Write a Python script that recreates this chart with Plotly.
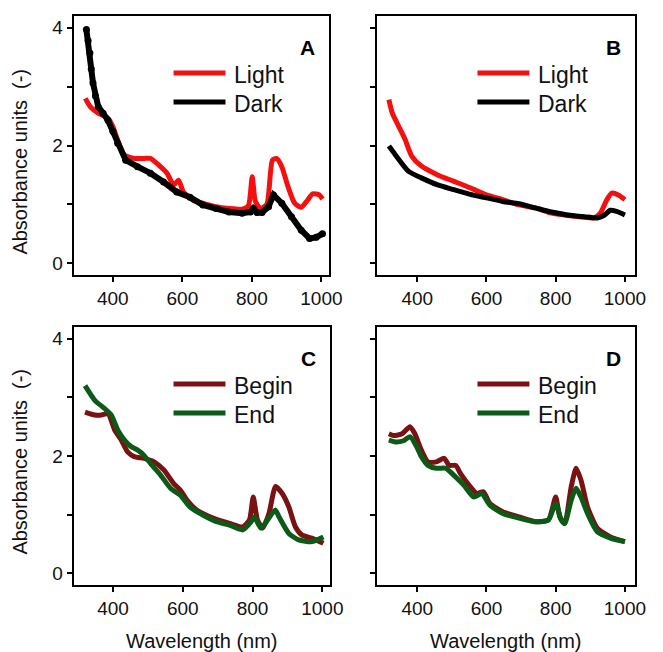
import plotly.graph_objects as go

# Panel A - light vs dark
a_light_x = [321, 335, 358, 386, 400, 414, 433, 462, 490, 508, 537, 556, 575, 589, 603, 631, 659, 697,
             734, 772, 790, 801, 810, 825, 843, 859, 871, 886, 904, 923, 942, 960, 975, 994, 1003]
a_light_y = [2.80, 2.66, 2.55, 2.46, 2.32, 2.09, 1.84, 1.78, 1.78, 1.78, 1.64, 1.53, 1.33, 1.41, 1.21, 1.07,
             1.02, 0.96, 0.93, 0.92, 0.98, 1.47, 1.05, 0.93, 1.00, 1.75, 1.78, 1.64, 1.30, 1.02, 0.95, 1.07,
             1.18, 1.16, 1.09]
a_dark_x = [324, 329, 334, 338, 343, 350, 358, 372, 386, 400, 414, 437, 471, 508, 546, 584, 622, 659, 697,
            734, 772, 796, 804, 815, 829, 848, 862, 886, 914, 942, 966, 985, 1003]
a_dark_y = [3.97, 3.78, 3.57, 3.30, 3.06, 2.84, 2.66, 2.55, 2.43, 2.24, 2.04, 1.75, 1.64, 1.53, 1.38, 1.21,
            1.12, 0.99, 0.93, 0.87, 0.85, 0.87, 0.93, 0.86, 0.86, 0.96, 1.16, 1.02, 0.79, 0.56, 0.42, 0.44, 0.50]

# Panel B - light vs dark
b_light_x = [318, 328, 346, 365, 384, 412, 459, 506, 553, 600, 647, 694, 741, 788, 835, 882, 911, 929,
             948, 962, 981, 1000]
b_light_y = [2.78, 2.55, 2.33, 2.10, 1.82, 1.65, 1.50, 1.39, 1.28, 1.16, 1.08, 0.99, 0.94, 0.85, 0.81,
             0.78, 0.77, 0.85, 1.08, 1.19, 1.16, 1.08]
b_dark_x = [318, 337, 375, 412, 459, 506, 553, 600, 647, 694, 741, 788, 835, 882, 920, 939, 958, 976, 1000]
b_dark_y = [1.99, 1.84, 1.56, 1.45, 1.33, 1.25, 1.17, 1.11, 1.05, 1.01, 0.94, 0.87, 0.82, 0.79, 0.77,
            0.81, 0.90, 0.88, 0.82]

# Panel C - begin vs end
c_begin_x = [320, 348, 367, 386, 405, 424, 442, 461, 489, 518, 546, 574, 593, 612, 640, 687, 734, 772,
             791, 802, 814, 829, 847, 866, 885, 904, 923, 942, 970, 1003]
c_begin_y = [2.75, 2.70, 2.70, 2.72, 2.44, 2.27, 2.07, 1.99, 1.96, 1.90, 1.76, 1.53, 1.42, 1.25, 1.08,
             0.94, 0.85, 0.79, 0.91, 1.30, 0.91, 0.77, 1.02, 1.48, 1.36, 1.13, 0.79, 0.65, 0.60, 0.51]
c_end_x = [320, 348, 376, 395, 414, 433, 452, 471, 489, 508, 537, 565, 593, 621, 659, 697, 734, 772,
           796, 805, 824, 843, 865, 876, 904, 932, 970, 1003]
c_end_y = [3.20, 2.95, 2.81, 2.70, 2.44, 2.27, 2.16, 2.10, 2.01, 1.87, 1.67, 1.45, 1.33, 1.13, 0.99,
           0.88, 0.82, 0.74, 0.88, 0.96, 0.77, 0.91, 1.08, 0.96, 0.68, 0.57, 0.54, 0.62]

# Panel D - begin vs end
d_begin_x = [318, 332, 356, 379, 393, 412, 431, 455, 478, 492, 511, 525, 553, 572, 591, 610, 647, 694,
             741, 779, 800, 812, 826, 845, 859, 873, 892, 920, 958, 1000]
d_begin_y = [2.38, 2.35, 2.38, 2.50, 2.38, 2.10, 1.90, 1.90, 1.96, 1.84, 1.84, 1.70, 1.48, 1.36, 1.39,
             1.19, 1.05, 0.96, 0.88, 0.91, 1.30, 0.96, 0.85, 1.48, 1.79, 1.59, 1.13, 0.77, 0.62, 0.54]
d_end_x = [318, 337, 360, 379, 398, 412, 431, 455, 483, 506, 535, 563, 586, 610, 647, 694, 741, 779,
           800, 816, 826, 845, 859, 873, 892, 920, 958, 1000]
d_end_y = [2.27, 2.24, 2.26, 2.33, 2.16, 1.99, 1.84, 1.79, 1.79, 1.67, 1.50, 1.30, 1.36, 1.16, 1.02,
           0.94, 0.88, 0.91, 1.19, 0.91, 0.85, 1.25, 1.45, 1.30, 1.02, 0.71, 0.60, 0.54]

x_ticks = [400, 600, 800, 1000]
y_ticks = [0, 1, 2, 3, 4]
y_ticktext = ["0", "", "2", "", "4"]

RED = "#f51010"
BLACK = "#000000"
MAROON = "#7a1214"
GREEN = "#0c5a17"
FONT = "Liberation Sans, Arial, sans-serif"

W, H = 663, 652


def px(x):
    return x / W


def py(y):
    return 1 - y / H


# panel frames in window pixels: (left, top, right, bottom)
frames = {
    "A": (75, 16, 336, 275),
    "B": (385, 16, 648, 275),
    "C": (75, 327, 337, 585),
    "D": (385, 327, 648, 585),
}

fig = go.Figure()

panels = [
    ("A", "x", "y", [(a_light_x, a_light_y, RED, "Light"), (a_dark_x, a_dark_y, BLACK, "Dark")]),
    ("B", "x2", "y2", [(b_light_x, b_light_y, RED, "Light"), (b_dark_x, b_dark_y, BLACK, "Dark")]),
    ("C", "x3", "y3", [(c_begin_x, c_begin_y, MAROON, "Begin"), (c_end_x, c_end_y, GREEN, "End")]),
    ("D", "x4", "y4", [(d_begin_x, d_begin_y, MAROON, "Begin"), (d_end_x, d_end_y, GREEN, "End")]),
]

for label, xa, ya, series in panels:
    for sx, sy, col, name in series:
        if label == "A" and name == "Dark":
            # rough, dotted look of the dark spectrum
            fig.add_trace(go.Scatter(x=sx, y=sy, mode="lines+markers", xaxis=xa, yaxis=ya,
                                     line=dict(color=col, width=6), marker=dict(color=col, size=7),
                                     showlegend=False))
        else:
            fig.add_trace(go.Scatter(x=sx, y=sy, mode="lines", xaxis=xa, yaxis=ya,
                                     line=dict(color=col, width=5, shape="spline", smoothing=0.6),
                                     showlegend=False))

    l, t, r, b = frames[label]
    # panel letter
    fig.add_annotation(x=px(r - 22), y=py(t + 31), xref="paper", yref="paper", text="<b>%s</b>" % label,
                       xanchor="center", yanchor="middle", showarrow=False,
                       font=dict(size=21, color="black", family=FONT))
    # hand drawn legend
    for i, (sx, sy, col, name) in enumerate(series):
        yy = t + 57 + 29 * i
        fig.add_shape(type="line", xref="paper", yref="paper", x0=px(l + 102), x1=px(l + 155),
                      y0=py(yy), y1=py(yy), line=dict(color=col, width=5))
        fig.add_annotation(x=px(l + 162), y=py(yy + 2), xref="paper", yref="paper", text=name,
                           xanchor="left", yanchor="middle", showarrow=False,
                           font=dict(size=23, color="#111", family=FONT))

axis_common = dict(showline=True, linecolor="black", linewidth=2, mirror=True, ticks="outside",
                   ticklen=5, tickwidth=1.5, tickcolor="black", showgrid=False, zeroline=False,
                   tickfont=dict(size=19, color="#111", family=FONT))

layout = dict(width=W, height=H, autosize=False, margin=dict(l=0, r=0, t=0, b=0),
              plot_bgcolor="white", paper_bgcolor="white", showlegend=False)

names = [("xaxis", "yaxis", "A", [287, 1023]), ("xaxis2", "yaxis2", "B", [285, 1030]),
         ("xaxis3", "yaxis3", "C", [287, 1023]), ("xaxis4", "yaxis4", "D", [285, 1030])]
for i, (xn, yn, lab, xr) in enumerate(names):
    l, t, r, b = frames[lab]
    anchor_x = "y" if i == 0 else "y%d" % (i + 1)
    anchor_y = "x" if i == 0 else "x%d" % (i + 1)
    layout[xn] = dict(axis_common, domain=[px(l), px(r)], anchor=anchor_x, range=xr,
                      tickvals=x_ticks)
    layout[yn] = dict(axis_common, domain=[py(b), py(t)], anchor=anchor_y, range=[-0.2, 4.2],
                      tickvals=y_ticks,
                      ticktext=y_ticktext if lab in ("A", "C") else [""] * 5)

fig.update_layout(**layout)

# axis titles
for lab, yc in (("A", 162), ("C", 462)):
    fig.add_annotation(x=px(20), y=py(yc), xref="paper", yref="paper",
                       text="Absorbance units  (-)", textangle=-90, showarrow=False,
                       xanchor="center", yanchor="middle",
                       font=dict(size=20, color="#111", family=FONT))
for lab in ("C", "D"):
    l, t, r, b = frames[lab]
    fig.add_annotation(x=px((l + r) / 2), y=py(641), xref="paper", yref="paper",
                       text="Wavelength (nm)", showarrow=False, xanchor="center", yanchor="middle",
                       font=dict(size=20, color="#111", family=FONT))

# fixed size page: no responsive resizing, no modebar, no body margin
fig.write_html("out.html", config={"responsive": False, "displayModeBar": False},
               post_script="document.body.style.margin='0px';")
